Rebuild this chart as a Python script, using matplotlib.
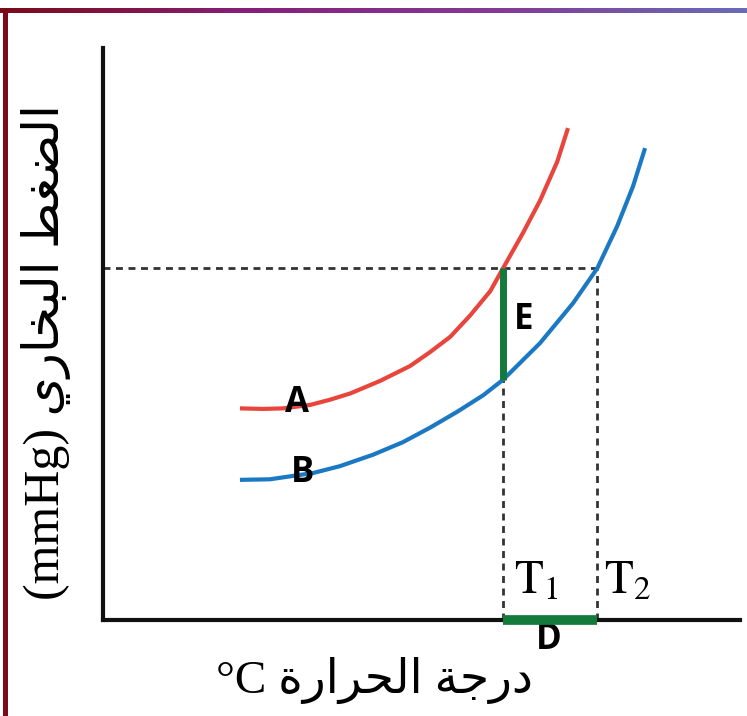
import matplotlib
matplotlib.use("Agg")
import matplotlib.pyplot as plt
import numpy as np
from matplotlib.colors import LinearSegmentedColormap

# curve readings (temperature, vapour pressure) in arbitrary units
temp_a = [21.5, 25.1, 28.3, 32.5, 35.6, 38.8, 43.5, 48.2, 51.3, 54.5, 57.6, 60.8, 62.8, 65.9, 68.6, 71.3, 73.0]
pres_a = [37.0, 36.9, 37.0, 37.6, 38.5, 39.6, 41.8, 44.4, 46.8, 49.5, 53.2, 57.5, 61.5, 67.6, 73.3, 80.1, 86.0]
temp_b = [21.5, 26.2, 33.0, 37.2, 42.4, 47.1, 51.3, 55.6, 59.7, 62.8, 68.6, 73.8, 77.6, 80.7, 83.2, 85.1]
pres_b = [24.5, 24.6, 25.7, 26.9, 28.9, 31.1, 33.6, 36.4, 39.3, 42.0, 48.4, 55.4, 61.5, 68.8, 75.8, 82.5]
T1, T2 = 62.8, 77.6
P_eq = 61.5
P_b_at_T1 = 42.0

y_label_ar = "الضغط البخاري"
x_label_ar = "درجة الحرارة"

# minimal arabic shaping (isolated, final, initial, medial)
FORMS = {
    "ا": ("\ufe8d", "\ufe8e", None, None),
    "ل": ("\ufedd", "\ufede", "\ufedf", "\ufee0"),
    "ض": ("\ufebd", "\ufebe", "\ufebf", "\ufec0"),
    "غ": ("\ufecd", "\ufece", "\ufecf", "\ufed0"),
    "ط": ("\ufec1", "\ufec2", "\ufec3", "\ufec4"),
    "ب": ("\ufe8f", "\ufe90", "\ufe91", "\ufe92"),
    "خ": ("\ufea5", "\ufea6", "\ufea7", "\ufea8"),
    "ر": ("\ufead", "\ufeae", None, None),
    "ي": ("\ufef1", "\ufef2", "\ufef3", "\ufef4"),
    "د": ("\ufea9", "\ufeaa", None, None),
    "ج": ("\ufe9d", "\ufe9e", "\ufe9f", "\ufea0"),
    "ة": ("\ufe93", "\ufe94", None, None),
    "ح": ("\ufea1", "\ufea2", "\ufea3", "\ufea4"),
}


def shape(text):
    out = []
    for i, c in enumerate(text):
        if c not in FORMS:
            out.append(c)
            continue
        prev = text[i - 1] if i > 0 else None
        nxt = text[i + 1] if i + 1 < len(text) else None
        jp = prev in FORMS and FORMS[prev][2] is not None
        jn = nxt in FORMS and FORMS[c][2] is not None
        iso, fin, ini, med = FORMS[c]
        if jp and jn:
            out.append(med)
        elif jp:
            out.append(fin)
        elif jn:
            out.append(ini)
        else:
            out.append(iso)
    return "".join(reversed(out))


plt.rcParams["mathtext.fontset"] = "stix"
W, H = 747, 716
fig = plt.figure(figsize=(W / 100, H / 100), dpi=100)

# frame: gradient top bar + dark red left bar
cmap = LinearSegmentedColormap.from_list("bar", ["#7d0a18", "#86207a", "#843a96", "#6a6cb6"])
bar = fig.add_axes([0, 1 - 13 / H, 1, 5 / H])
bar.imshow(np.linspace(0, 1, 256)[None, :], aspect="auto", cmap=cmap)
bar.axis("off")
left = fig.add_axes([3 / W, 0, 5 / W, 1 - 8 / H])
left.set_facecolor("#7d0a18")
left.set_xticks([])
left.set_yticks([])
for s in left.spines.values():
    s.set_visible(False)

ax = fig.add_axes([103 / W, (H - 620) / H, (740 - 103) / W, (620 - 48) / H])
ax.set_xlim(0, 100)
ax.set_ylim(0, 100)
ax.set_xticks([])
ax.set_yticks([])
for s in ["top", "right"]:
    ax.spines[s].set_visible(False)
for s in ["left", "bottom"]:
    ax.spines[s].set_linewidth(3)
    ax.spines[s].set_color("#111111")

dash = dict(color="#333333", lw=2, dashes=(2.5, 2))
ax.plot([0, T2], [P_eq, P_eq], **dash)
ax.plot([T1, T1], [0, P_eq], **dash)
ax.plot([T2, T2], [0, P_eq], **dash)

ax.plot(temp_a, pres_a, color="#e8453c", lw=3, solid_capstyle="butt", solid_joinstyle="round")
ax.plot(temp_b, pres_b, color="#1b79c4", lw=3, solid_capstyle="butt", solid_joinstyle="round")

ax.plot([T1, T1], [P_b_at_T1, P_eq], color="#137a3c", lw=5, solid_capstyle="butt")
ax.plot([T1, T2], [0, 0], color="#137a3c", lw=7, solid_capstyle="butt", clip_on=False, zorder=4)

lab = dict(fontsize=25, fontweight="bold", family="Open Sans", ha="center", va="center")
ax.text(30.5, 37.9, "A", **lab)
ax.text(31.4, 25.7, "B", **lab)
ax.text(66.1, 52.4, "E", **lab)
ax.text(70.0, -3.5, "D", clip_on=False, **lab)

ax.text(68.0, 6.8, r"$\mathrm{T}_1$", fontsize=34, ha="center", va="center")
ax.text(82.4, 6.8, r"$\mathrm{T}_2$", fontsize=34, ha="center", va="center")

fig.text(374 / W, 1 - 680 / H, "°C " + shape(x_label_ar), fontsize=34,
         family=["Liberation Serif", "DejaVu Sans"], ha="center", va="center")
fig.text(46 / W, 1 - 352 / H, "(mmHg) " + shape(y_label_ar), fontsize=36, rotation=90,
         family=["Liberation Serif", "DejaVu Sans"], ha="center", va="center")

fig.savefig("out.png", dpi=100)
